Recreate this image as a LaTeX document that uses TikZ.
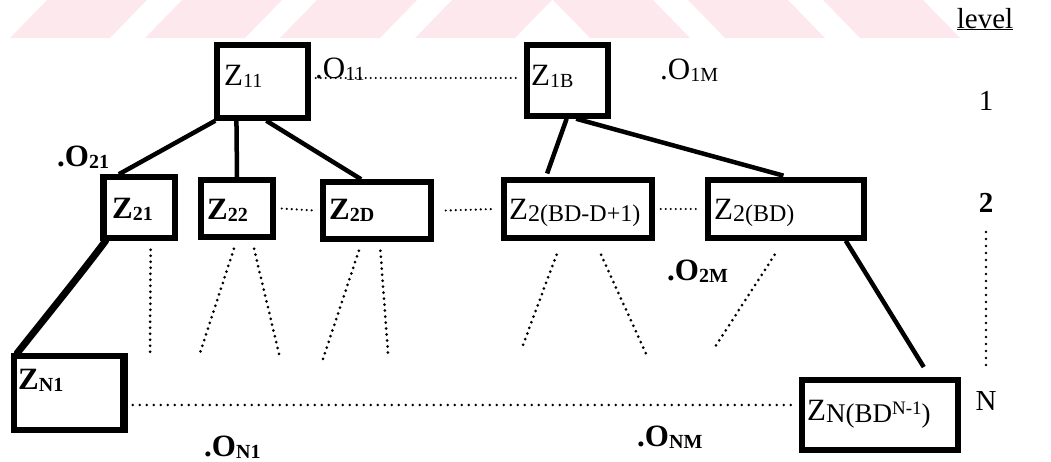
\documentclass[tikz,border=0pt]{standalone}
\usepackage{fontspec}
\setmainfont{Liberation Serif}
\usetikzlibrary{calc}
\definecolor{wmpink}{RGB}{253,233,237}

% lowered small subscripts
\newcommand\zs[1]{\raisebox{-2pt}{\fontsize{20}{22}\selectfont #1}}
\newcommand\zsl[1]{\raisebox{-2pt}{\fontsize{24}{26}\selectfont #1}}

\tikzset{
  zbox/.style={draw, line width=5.5pt, inner sep=0pt},
  ztext/.style={inner sep=0pt, anchor=base west, font=\fontsize{31}{33}\selectfont},
  lvtext/.style={inner sep=0pt, anchor=base, font=\fontsize{29}{31}\selectfont},
  tree/.style={line width=4.5pt},
  heavy/.style={line width=7pt, line cap=round},
  kiddots/.style={line width=3pt, dash pattern=on 0pt off 6pt, line cap=round},
  hdots/.style={line width=2.4pt, dash pattern=on 0pt off 5pt, line cap=round},
  ldots/.style={line width=2.6pt, dash pattern=on 0pt off 7pt, line cap=round},
}

\begin{document}
\begin{tikzpicture}[x=1pt,y=-1pt]
\useasboundingbox (0,0) rectangle (1051,461);

% pale chevron band along the top edge
\foreach \s in {10,145,280,415}
  \fill[wmpink] (\s,38) -- (\s+100,38) -- (\s+137,0) -- (\s+37,0) -- cycle;
\foreach \s in {553,688,823}
  \fill[wmpink] (\s,0) -- (\s+100,0) -- (\s+137,38) -- (\s+37,38) -- cycle;

% level 1
\node[zbox, minimum width=91pt, minimum height=73pt] (z11) at (262.5,81.5) {};
\node[zbox, minimum width=81pt, minimum height=71pt] (z1b) at (567.5,80.5) {};
% level 2
\node[zbox, minimum width=72pt, minimum height=61pt] (z21) at (139,207.5) {};
\node[zbox, minimum width=72pt, minimum height=57pt] (z22) at (237,208.5) {};
\node[zbox, minimum width=108pt, minimum height=57pt] (z2d) at (377,210.5) {};
\node[zbox, minimum width=148pt, minimum height=58pt] (z2a) at (578,209) {};
\node[zbox, minimum width=156pt, minimum height=58pt] (z2b) at (786,209) {};
% level N
\node[zbox, minimum width=111pt, minimum height=74pt] (zn1) at (69.5,393) {};
\node[zbox, minimum width=156pt, minimum height=70pt] (znx) at (880,415) {};

% heavier sides
\draw[line width=5pt] ([xshift=4pt]z21.north west) -- ([xshift=4pt]z21.south west);
\draw[line width=5pt] ([xshift=-5pt]zn1.north east) -- ([xshift=-5pt]zn1.south east);

% box texts
\node[ztext] (t11) at (224,85) {Z\zs{11}};
\node[ztext] (t1b) at (531,85) {Z\zs{1B}};
\node[ztext] (t21) at (112,218) {\textbf{Z\zs{21}}};
\node[ztext] (t22) at (207,219) {\textbf{Z\zs{22}}};
\node[ztext] (t2d) at (329,219) {\textbf{Z\zs{2D}}};
\node[ztext] (t2a) at (509,219) {Z\zsl{2(BD-D+1)}};
\node[ztext] (t2b) at (714,219) {Z\zsl{2(BD)}};
\node[ztext] (tn1) at (18,389) {\textbf{Z\zs{N1}}};
\node[ztext] (tnx) at (807,420) {Z\raisebox{-2pt}{\fontsize{27}{29}\selectfont N(BD\raisebox{8pt}{\fontsize{19}{21}\selectfont N-1})}};

% output labels
\node[ztext] (o11) at (315,78) {.O\zs{11}};
\node[ztext] (o1m) at (660,79) {.O\zs{1M}};
\node[ztext] (o21) at (57,166) {\textbf{.O\zs{21}}};
\node[ztext] (o2m) at (667,280) {\textbf{.O\zs{2M}}};
\node[ztext] (on1) at (204,456) {\textbf{.O\zs{N1}}};
\node[ztext] (onm) at (637,446) {\textbf{.O\zs{NM}}};

% level column
\node[lvtext] (lvl) at (985,28) {\underline{level}};
\node[lvtext] (l1) at (986,110) {1};
\node[lvtext] (l2) at (986,212) {\textbf{2}};
\node[lvtext] (ln) at (986,410) {N};
\draw[ldots] ([yshift=-20pt]l2.base) -- ([yshift=42pt]ln.base);

% tree edges
\draw[tree] ($(z11.south west)!0.01!(z11.south east)$) -- ($(z21.north west)!0.24!(z21.north east)$);
\draw[tree] ($(z11.south west)!0.23!(z11.south east)$) -- (z22.north);
\draw[tree] ($(z11.south west)!0.54!(z11.south east)$) -- ($(z2d.north west)!0.36!(z2d.north east)$);
\draw[tree, shorten >=4pt] ($(z1b.south west)!0.49!(z1b.south east)$) -- ($(z2a.north west)!0.29!(z2a.north east)$);
\draw[tree, shorten >=6pt] ($(z1b.south west)!0.60!(z1b.south east)$) -- ($(z2b.north west)!0.52!(z2b.north east)$);
\draw[heavy] ($(z21.south west)!0.07!(z21.south east)$)
  .. controls (80,275) and (45,318) .. ($(zn1.north west)!0.05!(zn1.north east)$);
\draw[tree, shorten >=12pt] ($(z2b.south west)!0.87!(z2b.south east)$) -- ($(znx.north west)!0.81!(znx.north east)$);

% same-level links
\draw[hdots] ([xshift=5pt]z11.east |- o11.base) -- ([xshift=-8pt]z1b.west |- o11.base);
\draw[hdots] ([xshift=6pt]z22.east) -- ([xshift=-6pt]z2d.west);
\draw[hdots] ([xshift=12pt]z2d.east) -- ([xshift=-8pt]z2a.west);
\draw[hdots] ([xshift=6pt]z2a.east) -- ([xshift=-6pt]z2b.west);
\draw[ldots] ([shift={(5,12)}]zn1.east) -- ([shift={(-5,-10)}]znx.west);

% hints of further descendants
\coordinate (d1) at (150,353);
\coordinate (d2) at (200,353);
\coordinate (d3) at (280,358);
\coordinate (d4) at (322,362);
\coordinate (d5) at (388,353);
\coordinate (d6) at (523,345);
\coordinate (d7) at (648,358);
\coordinate (d8) at (713,350);
\draw[kiddots] ($(z21.south west)!0.65!(z21.south east)+(0,9)$) -- (d1);
\draw[kiddots] ($(z22.south west)!0.46!(z22.south east)+(0,9)$) -- (d2);
\draw[kiddots] ($(z22.south west)!0.72!(z22.south east)+(0,9)$) -- (d3);
\draw[kiddots] ($(z2d.south west)!0.34!(z2d.south east)+(0,9)$) -- (d4);
\draw[kiddots] ($(z2d.south west)!0.53!(z2d.south east)+(0,9)$) -- (d5);
\draw[kiddots] ($(z2a.south west)!0.36!(z2a.south east)+(0,14)$) -- (d6);
\draw[kiddots] ($(z2a.south west)!0.65!(z2a.south east)+(0,14)$) -- (d7);
\draw[kiddots] ($(z2b.south west)!0.43!(z2b.south east)+(0,14)$) -- (d8);
\end{tikzpicture}
\end{document}
